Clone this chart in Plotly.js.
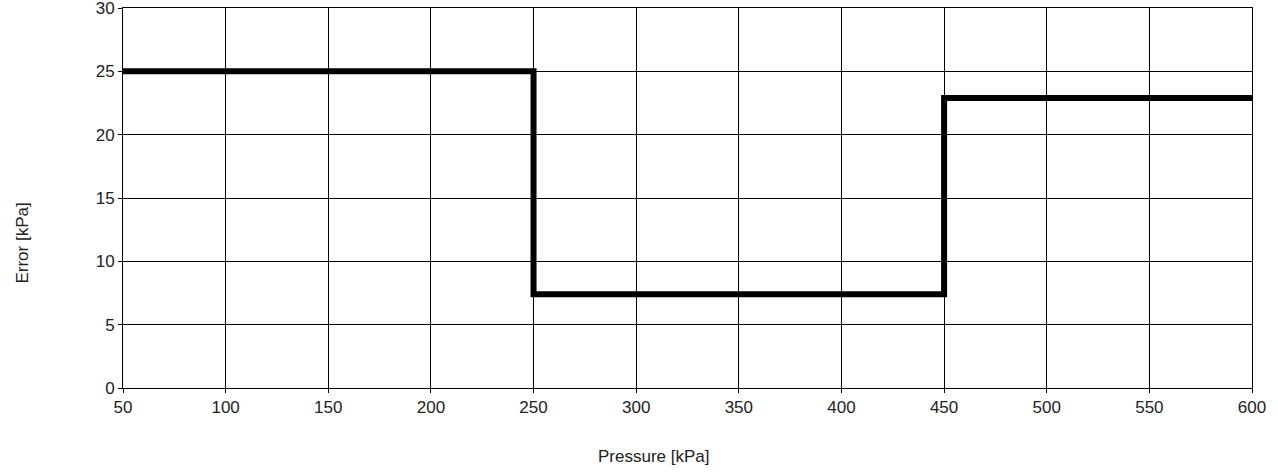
<!DOCTYPE html>
<html>
<head>
<meta charset="utf-8">
<script src="https://cdn.plot.ly/plotly-3.0.1.min.js"></script>
<style>html,body{margin:0;padding:0;background:#fff;}#chart{width:1278px;height:473px;}</style>
</head>
<body>
<div id="chart"></div>
<script>
const pressure = [50, 250, 450, 600];
const errorKPa = [25, 7.4, 22.9, 22.9];
const xTicks = [50, 100, 150, 200, 250, 300, 350, 400, 450, 500, 550, 600];
const yTicks = [0, 5, 10, 15, 20, 25, 30];
const xTitle = 'Pressure [kPa]';
const yTitle = 'Error [kPa]';

const fontFam = 'Liberation Sans, Arial, sans-serif';
const trace = {
  x: pressure,
  y: errorKPa,
  type: 'scatter',
  mode: 'lines',
  line: {shape: 'hv', color: '#000', width: 6},
  hoverinfo: 'none'
};
const axisCommon = {
  showgrid: true, gridcolor: '#000', gridwidth: 1,
  showline: true, linecolor: '#000', linewidth: 1, mirror: true,
  ticks: 'outside', ticklen: 4, tickcolor: '#000', tickwidth: 1,
  zeroline: false, ticklabeloverflow: 'allow',
  tickfont: {family: fontFam, size: 17, color: '#222'}
};
const layout = {
  width: 1278, height: 473,
  margin: {l: 123, r: 26, t: 8, b: 85},
  paper_bgcolor: '#fff', plot_bgcolor: '#fff',
  showlegend: false,
  xaxis: Object.assign({}, axisCommon, {range: [50, 600], tickvals: xTicks, ticktext: xTicks.map(String)}),
  yaxis: Object.assign({}, axisCommon, {range: [0, 30.0001], tickvals: yTicks, ticktext: yTicks.map(String)}),
  annotations: [
    {text: xTitle, xref: 'paper', yref: 'paper', x: 0.470, y: -0.181, xanchor: 'center', yanchor: 'middle', showarrow: false, font: {family: fontFam, size: 17, color: '#222'}},
    {text: yTitle, xref: 'paper', yref: 'paper', x: -0.0888, y: 0.382, xanchor: 'center', yanchor: 'middle', textangle: -90, showarrow: false, font: {family: fontFam, size: 17, color: '#222'}}
  ]
};
Plotly.newPlot('chart', [trace], layout, {displayModeBar: false, staticPlot: true});
</script>
</body>
</html>
